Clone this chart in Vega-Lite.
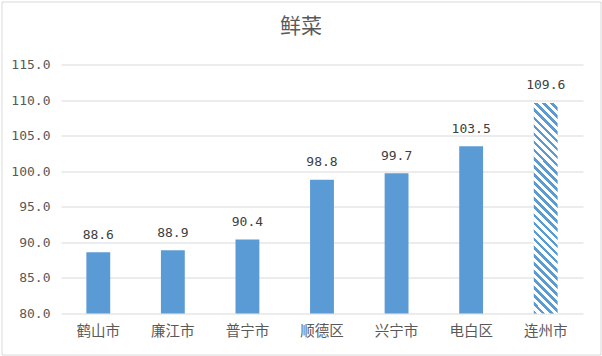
{
  "$schema": "https://vega.github.io/schema/vega-lite/v6.json",
  "width": 599,
  "height": 353,
  "padding": {"left": 1.5, "top": 1.5, "right": 1.5, "bottom": 1.5},
  "autosize": {"type": "none"},
  "background": "white",
  "title": {
    "text": "鲜菜",
    "font": "Noto Sans CJK SC",
    "fontSize": 21,
    "fontWeight": "normal",
    "color": "#595959",
    "anchor": "middle",
    "offset": -35
  },
  "config": {"view": {"stroke": "#D9D9D9", "strokeWidth": 1}},
  "data": {
    "values": [
      {"city": "鹤山市", "value": 88.6},
      {"city": "廉江市", "value": 88.9},
      {"city": "普宁市", "value": 90.4},
      {"city": "顺德区", "value": 98.8},
      {"city": "兴宁市", "value": 99.7},
      {"city": "电白区", "value": 103.5},
      {"city": "连州市", "value": 109.6}
    ]
  },
  "encoding": {
    "x": {
      "field": "city",
      "type": "nominal",
      "sort": null,
      "scale": {
        "domain": ["鹤山市", "廉江市", "普宁市", "顺德区", "兴宁市", "电白区", "连州市"],
        "range": [59.5, 581.5],
        "paddingInner": 0.68,
        "paddingOuter": 0.34
      },
      "axis": {
        "title": null,
        "domain": false,
        "ticks": false,
        "grid": false,
        "labelAngle": 0,
        "labelFont": "Noto Sans CJK SC",
        "labelFontSize": 14.5,
        "labelColor": "#595959",
        "labelPadding": 11,
        "offset": -41
      }
    },
    "y": {
      "field": "value",
      "type": "quantitative",
      "scale": {"domain": [80, 115], "range": [312, 63], "nice": false, "zero": false},
      "axis": {
        "title": null,
        "domain": false,
        "ticks": false,
        "grid": true,
        "gridColor": "#D9D9D9",
        "gridWidth": 1,
        "values": [80, 85, 90, 95, 100, 105, 110, 115],
        "format": ".1f",
        "labelFont": "DejaVu Sans Mono",
        "labelFontSize": 13,
        "labelColor": "#595959",
        "labelPadding": 11,
        "offset": -59.5
      }
    }
  },
  "layer": [
    {
      "transform": [{"filter": "datum.city !== '连州市'"}],
      "mark": {"type": "bar", "color": "#5B9BD5"},
      "encoding": {"y2": {"datum": 80}}
    },
    {
      "transform": [{"filter": "datum.city === '连州市'"}],
      "mark": {
        "type": "bar",
        "fill": {
          "gradient": "linear",
          "x1": 0, "y1": 1, "x2": 0.1248, "y2": -0.0994,
          "stops": [
            {"offset": 0, "color": "#5B9BD5"}, {"offset": 0.0155, "color": "#5B9BD5"}, {"offset": 0.0155, "color": "white"}, {"offset": 0.0345, "color": "white"},
            {"offset": 0.0345, "color": "#5B9BD5"}, {"offset": 0.0500, "color": "#5B9BD5"}, {"offset": 0.0500, "color": "white"}, {"offset": 0.0690, "color": "white"},
            {"offset": 0.0690, "color": "#5B9BD5"}, {"offset": 0.0845, "color": "#5B9BD5"}, {"offset": 0.0845, "color": "white"}, {"offset": 0.1034, "color": "white"},
            {"offset": 0.1034, "color": "#5B9BD5"}, {"offset": 0.1190, "color": "#5B9BD5"}, {"offset": 0.1190, "color": "white"}, {"offset": 0.1379, "color": "white"},
            {"offset": 0.1379, "color": "#5B9BD5"}, {"offset": 0.1534, "color": "#5B9BD5"}, {"offset": 0.1534, "color": "white"}, {"offset": 0.1724, "color": "white"},
            {"offset": 0.1724, "color": "#5B9BD5"}, {"offset": 0.1879, "color": "#5B9BD5"}, {"offset": 0.1879, "color": "white"}, {"offset": 0.2069, "color": "white"},
            {"offset": 0.2069, "color": "#5B9BD5"}, {"offset": 0.2224, "color": "#5B9BD5"}, {"offset": 0.2224, "color": "white"}, {"offset": 0.2414, "color": "white"},
            {"offset": 0.2414, "color": "#5B9BD5"}, {"offset": 0.2569, "color": "#5B9BD5"}, {"offset": 0.2569, "color": "white"}, {"offset": 0.2759, "color": "white"},
            {"offset": 0.2759, "color": "#5B9BD5"}, {"offset": 0.2914, "color": "#5B9BD5"}, {"offset": 0.2914, "color": "white"}, {"offset": 0.3103, "color": "white"},
            {"offset": 0.3103, "color": "#5B9BD5"}, {"offset": 0.3259, "color": "#5B9BD5"}, {"offset": 0.3259, "color": "white"}, {"offset": 0.3448, "color": "white"},
            {"offset": 0.3448, "color": "#5B9BD5"}, {"offset": 0.3603, "color": "#5B9BD5"}, {"offset": 0.3603, "color": "white"}, {"offset": 0.3793, "color": "white"},
            {"offset": 0.3793, "color": "#5B9BD5"}, {"offset": 0.3948, "color": "#5B9BD5"}, {"offset": 0.3948, "color": "white"}, {"offset": 0.4138, "color": "white"},
            {"offset": 0.4138, "color": "#5B9BD5"}, {"offset": 0.4293, "color": "#5B9BD5"}, {"offset": 0.4293, "color": "white"}, {"offset": 0.4483, "color": "white"},
            {"offset": 0.4483, "color": "#5B9BD5"}, {"offset": 0.4638, "color": "#5B9BD5"}, {"offset": 0.4638, "color": "white"}, {"offset": 0.4828, "color": "white"},
            {"offset": 0.4828, "color": "#5B9BD5"}, {"offset": 0.4983, "color": "#5B9BD5"}, {"offset": 0.4983, "color": "white"}, {"offset": 0.5172, "color": "white"},
            {"offset": 0.5172, "color": "#5B9BD5"}, {"offset": 0.5328, "color": "#5B9BD5"}, {"offset": 0.5328, "color": "white"}, {"offset": 0.5517, "color": "white"},
            {"offset": 0.5517, "color": "#5B9BD5"}, {"offset": 0.5672, "color": "#5B9BD5"}, {"offset": 0.5672, "color": "white"}, {"offset": 0.5862, "color": "white"},
            {"offset": 0.5862, "color": "#5B9BD5"}, {"offset": 0.6017, "color": "#5B9BD5"}, {"offset": 0.6017, "color": "white"}, {"offset": 0.6207, "color": "white"},
            {"offset": 0.6207, "color": "#5B9BD5"}, {"offset": 0.6362, "color": "#5B9BD5"}, {"offset": 0.6362, "color": "white"}, {"offset": 0.6552, "color": "white"},
            {"offset": 0.6552, "color": "#5B9BD5"}, {"offset": 0.6707, "color": "#5B9BD5"}, {"offset": 0.6707, "color": "white"}, {"offset": 0.6897, "color": "white"},
            {"offset": 0.6897, "color": "#5B9BD5"}, {"offset": 0.7052, "color": "#5B9BD5"}, {"offset": 0.7052, "color": "white"}, {"offset": 0.7241, "color": "white"},
            {"offset": 0.7241, "color": "#5B9BD5"}, {"offset": 0.7397, "color": "#5B9BD5"}, {"offset": 0.7397, "color": "white"}, {"offset": 0.7586, "color": "white"},
            {"offset": 0.7586, "color": "#5B9BD5"}, {"offset": 0.7741, "color": "#5B9BD5"}, {"offset": 0.7741, "color": "white"}, {"offset": 0.7931, "color": "white"},
            {"offset": 0.7931, "color": "#5B9BD5"}, {"offset": 0.8086, "color": "#5B9BD5"}, {"offset": 0.8086, "color": "white"}, {"offset": 0.8276, "color": "white"},
            {"offset": 0.8276, "color": "#5B9BD5"}, {"offset": 0.8431, "color": "#5B9BD5"}, {"offset": 0.8431, "color": "white"}, {"offset": 0.8621, "color": "white"},
            {"offset": 0.8621, "color": "#5B9BD5"}, {"offset": 0.8776, "color": "#5B9BD5"}, {"offset": 0.8776, "color": "white"}, {"offset": 0.8966, "color": "white"},
            {"offset": 0.8966, "color": "#5B9BD5"}, {"offset": 0.9121, "color": "#5B9BD5"}, {"offset": 0.9121, "color": "white"}, {"offset": 0.9310, "color": "white"},
            {"offset": 0.9310, "color": "#5B9BD5"}, {"offset": 0.9466, "color": "#5B9BD5"}, {"offset": 0.9466, "color": "white"}, {"offset": 0.9655, "color": "white"},
            {"offset": 0.9655, "color": "#5B9BD5"}, {"offset": 0.9810, "color": "#5B9BD5"}, {"offset": 0.9810, "color": "white"}, {"offset": 1, "color": "white"}
          ]
        }
      },
      "encoding": {"y2": {"datum": 80}}
    },
    {
      "mark": {
        "type": "text",
        "font": "DejaVu Sans Mono",
        "fontSize": 13,
        "color": "#404040",
        "baseline": "middle",
        "dy": -17.5
      },
      "encoding": {
        "text": {"field": "value", "type": "quantitative", "format": ".1f"}
      }
    }
  ]
}
